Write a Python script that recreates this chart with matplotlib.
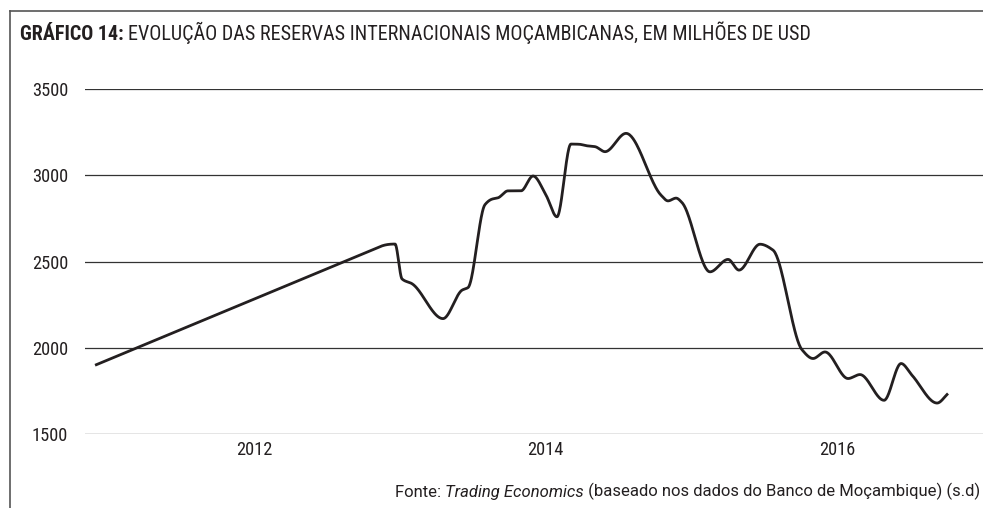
import numpy as np
import matplotlib
matplotlib.use("Agg")
import matplotlib.pyplot as plt
from matplotlib import font_manager
from matplotlib.lines import Line2D

# Reservas internacionais de Moçambique (milhões de USD); datas em anos decimais
datas = [2010.910, 2012.865, 2012.968, 2013.016, 2013.085, 2013.297, 2013.428, 2013.469,
         2013.585, 2013.633, 2013.675, 2013.743, 2013.832, 2013.915, 2014.004, 2014.079,
         2014.175, 2014.230, 2014.285, 2014.340, 2014.409, 2014.553, 2014.793, 2014.841,
         2014.896, 2014.937, 2015.129, 2015.253, 2015.328, 2015.472, 2015.561, 2015.760,
         2015.836, 2015.918, 2016.076, 2016.158, 2016.323, 2016.440, 2016.515, 2016.687,
         2016.762]
reservas = [1900, 2587, 2602, 2400, 2372, 2170, 2335, 2350, 2830, 2862, 2870, 2910, 2910,
            2996, 2885, 2760, 3181, 3180, 3171, 3166, 3137, 3243, 2885, 2852, 2868, 2842,
            2441, 2513, 2451, 2601, 2567, 1990, 1939, 1977, 1823, 1846, 1697, 1910, 1842,
            1681, 1736]

anos_eixo = [2012, 2014, 2016]
rotulos_anos = ["2012", "2014", "2016"]
valores_eixo = [1500, 2000, 2500, 3000, 3500]
rotulos_valores = ["1500", "2000", "2500", "3000", "3500"]

titulo_negrito = "GRÁFICO 14:"
titulo_texto = "EVOLUÇÃO DAS RESERVAS INTERNACIONAIS MOÇAMBICANAS, EM MILHÕES DE USD"
fonte_inicio = "Fonte: "
fonte_italico = "Trading Economics"
fonte_fim = " (baseado nos dados do Banco de Moçambique) (s.d)"


def pchip(x, y, n=40, lacuna=0.5):
    """Curva suave monótona por troços; intervalos sem dados (> lacuna) ficam retos."""
    x = np.asarray(x, float)
    y = np.asarray(y, float)
    h = np.diff(x)
    d = np.diff(y) / h
    m = np.zeros_like(y)
    for k in range(1, len(x) - 1):
        if d[k - 1] * d[k] > 0:
            w1 = 2 * h[k] + h[k - 1]
            w2 = h[k] + 2 * h[k - 1]
            m[k] = (w1 + w2) / (w1 / d[k - 1] + w2 / d[k])
    m[0] = d[0]
    m[-1] = d[-1]
    for k in range(len(h)):
        if h[k] > lacuna:
            m[k] = d[k]
            m[k + 1] = d[k]
    xs, ys = [], []
    for k in range(len(h)):
        t = np.linspace(0, 1, n, endpoint=(k == len(h) - 1))
        h00 = 2 * t**3 - 3 * t**2 + 1
        h10 = t**3 - 2 * t**2 + t
        h01 = -2 * t**3 + 3 * t**2
        h11 = t**3 - t**2
        xs.append(x[k] + t * h[k])
        ys.append(h00 * y[k] + h10 * h[k] * m[k] + h01 * y[k + 1] + h11 * h[k] * m[k + 1])
    return np.concatenate(xs), np.concatenate(ys)


# Fonte condensada, se existir
nomes = {f.name for f in font_manager.fontManager.ttflist}
familia = "DejaVu Sans"
for nome in ["Roboto Condensed", "Liberation Sans Narrow", "Open Sans Condensed",
             "Noto Sans Condensed", "Roboto", "Liberation Sans"]:
    if nome in nomes:
        familia = nome
        break
familia_nota = "Roboto" if "Roboto" in nomes else familia
plt.rcParams["font.family"] = [familia, "DejaVu Sans"]

W, H = 983, 508
fig = plt.figure(figsize=(W / 100, H / 100), dpi=100)
renderer = fig.canvas.get_renderer()


def largura(texto, **kw):
    t = fig.text(0, 0, texto, fontsize=10, **kw)
    w = t.get_window_extent(renderer).width
    t.remove()
    return w


ax = fig.add_axes([85 / W, 1 - 434.3 / H, 1 - 85 / W, (434.3 - 89) / H])

xs, ys = pchip(datas, reservas)
ax.plot(xs, ys, color="#231f20", lw=2.0, solid_capstyle="butt", zorder=3)

ax.set_xlim(2010.841, 2017.002)
ax.set_ylim(1500, 3500)
ax.set_yticks(valores_eixo)
ax.set_yticklabels(rotulos_valores)
ax.set_xticks(anos_eixo)
ax.set_xticklabels(rotulos_anos)
ax.grid(axis="y", color="#333333", lw=0.9)
ax.set_axisbelow(True)
for s in ax.spines.values():
    s.set_visible(False)

tam_ticks = 10 * 36 / largura("3500")
ax.tick_params(axis="both", length=0, labelsize=tam_ticks, colors="#231f20")
ax.tick_params(axis="y", pad=17 * 72 / 100)
ax.tick_params(axis="x", pad=7 * 72 / 100)

# Moldura
cor_moldura = "#555555"
fig.add_artist(Line2D([9.5 / W, 9.5 / W], [0, 1 - 11 / H], transform=fig.transFigure,
                      color=cor_moldura, lw=1.2))
fig.add_artist(Line2D([9.5 / W, 1], [1 - 11 / H, 1 - 11 / H], transform=fig.transFigure,
                      color=cor_moldura, lw=1.2))

# Título
wb = largura(titulo_negrito, fontweight="bold")
wr = largura(titulo_texto)
tam_titulo = 10 * (812 - 20 - 4) / (wb + wr)
t1 = fig.text(20 / W, 1 - 39.5 / H, titulo_negrito, fontsize=tam_titulo, fontweight="bold",
              color="#231f20", va="baseline", ha="left")
ax.annotate(titulo_texto, xy=(1, 0), xycoords=t1, xytext=(4, 0), textcoords="offset pixels",
            fontsize=tam_titulo, color="#231f20", va="bottom", ha="left")

# Fonte dos dados
nota = dict(family=[familia_nota, "DejaVu Sans"], color="#231f20")
tam_fonte = 10 * 391 / largura(fonte_fim.strip(), family=nota["family"])
f3 = fig.text(980 / W, 1 - 496 / H, fonte_fim, fontsize=tam_fonte, ha="right",
              va="baseline", **nota)
f2 = ax.annotate(fonte_italico, xy=(0, 0), xycoords=f3, fontsize=tam_fonte,
                 fontstyle="italic", ha="right", va="bottom", **nota)
ax.annotate(fonte_inicio, xy=(0, 0), xycoords=f2, fontsize=tam_fonte, ha="right",
            va="bottom", **nota)

fig.savefig("out.png", dpi=100)
